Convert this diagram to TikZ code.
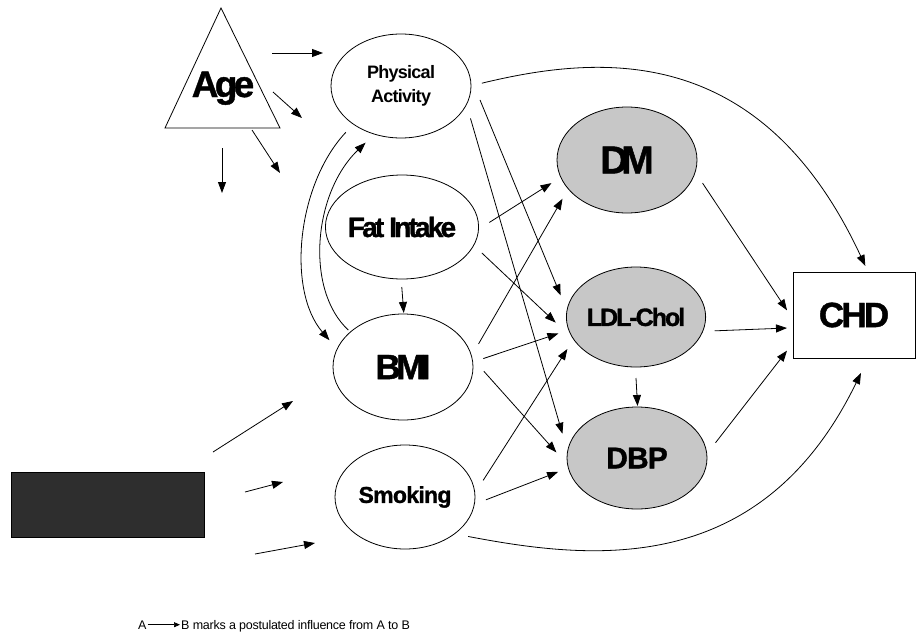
\documentclass[tikz,border=0pt]{standalone}
\usepackage{fontspec}
\setmainfont{Liberation Sans}
\usetikzlibrary{shapes.geometric,arrows.meta}

% bold, tightly set labels: size, tracking
\newcommand\tightfont[2]{\fontsize{#1}{#1}\selectfont\bfseries\addfontfeature{LetterSpace=#2,FakeBold=1.2}}

\tikzset{
  oval/.style={ellipse, draw, line width=0.8pt, inner sep=0pt, outer sep=11pt,
    minimum width=140pt, minimum height=104pt},
  shaded/.style={oval, fill=black!22},
  arr/.style={-{Triangle[length=11pt,width=8pt]}, line width=0.8pt},
}

\begin{document}
\begin{tikzpicture}[x=1pt, y=-1pt]
\useasboundingbox (0,0) rectangle (917,637);

% age triangle
\draw[line width=0.8pt] (221,8) -- (280,128) -- (165,128) -- cycle;
\node[anchor=base, inner sep=0pt, font={\tightfont{37}{-10}}] (age) at (223,97) {Age};

% left column
\node[oval, align=center, font={\fontsize{18}{24}\selectfont\bfseries\addfontfeature{LetterSpace=-4}}]
  (pa) at (401,86) {Physical\\Activity};
\node[oval, font={\tightfont{28}{-10}}] (fi) at (402,227) {Fat Intake};
\node[oval, minimum height=106pt, font={\tightfont{35}{-13}}] (bmi) at (403,367) {BMI};
\node[oval, font={\tightfont{23}{-3}}] (sm) at (405,497) {Smoking};

% middle column
\node[shaded, minimum height=106pt, font={\tightfont{39}{-18}}] (dm) at (627,160) {DM};
\node[shaded, minimum width=138pt, minimum height=100pt, font={\tightfont{25}{-8}}] (ldl) at (636,317) {LDL-Chol};
\node[shaded, minimum height=102pt, font={\tightfont{30}{-3}}] (dbp) at (637,458) {DBP};

% outcome
\node[draw, line width=1pt, minimum width=122pt, minimum height=86pt, inner sep=0pt,
  outer sep=6pt, font={\tightfont{35}{-8}}] (chd) at (854,315) {CHD};

% dark block, lower left
\node[draw, fill=black!82, minimum width=193pt, minimum height=65pt, inner sep=0pt] (grp) at (107.5,504.5) {};

% loose arrow ends
\coordinate (ag1s) at (272,53);  \coordinate (ag1e) at (323,53);
\coordinate (ag2s) at (273,92);  \coordinate (ag2e) at (302,118);
\coordinate (ag3s) at (252,130); \coordinate (ag3e) at (280,173);
\coordinate (ag4s) at (222,148); \coordinate (ag4e) at (222,193);
\coordinate (gr1s) at (213,452); \coordinate (gr1e) at (293,401);
\coordinate (gr2s) at (245,492); \coordinate (gr2e) at (283,482);
\coordinate (gr3s) at (255,554); \coordinate (gr3e) at (315,543);

\draw[arr] (ag1s) -- (ag1e);
\draw[arr] (ag2s) -- (ag2e);
\draw[arr] (ag3s) -- (ag3e);
\draw[arr] (ag4s) -- (ag4e);
\draw[arr] (gr1s) -- (gr1e);
\draw[arr] (gr2s) -- (gr2e);
\draw[arr] (gr3s) -- (gr3e);

% physical activity <-> bmi
\draw[arr] (pa.220) .. controls +(-49,52) and +(-43,-50) .. (bmi.160);
\draw[arr, shorten <=-8pt] (bmi.145) .. controls +(-37,-34) and +(-53,51) .. (pa.238);
\draw[arr, shorten <=-3pt, shorten >=-10pt] (fi.south) -- (bmi.north);

% into the risk factors
\draw[arr] (fi.3) -- (dm.197);
\draw[arr] (bmi.17) -- (dm.211);
\draw[arr] (pa.-10) -- (ldl.164);
\draw[arr] (fi.-18) -- (ldl.184);
\draw[arr] (bmi.6) -- (ldl.192);
\draw[arr] (sm.12) -- (ldl.205);
\draw[arr] (pa.-25) -- (dbp.162);
\draw[arr] (bmi.-3) -- (dbp.176);
\draw[arr] (sm.-2) -- (dbp.190);
\draw[arr, shorten >=-10pt] (ldl.south) -- (dbp.north);

% into chd
\draw[arr] (dm.-17) -- (chd.176);
\draw[arr] (ldl.-10) -- (chd.191);
\draw[arr] (dbp.11) -- (chd.208);
\draw[arr] (pa.2) .. controls +(116,-28) and +(-105,-226) .. (chd.77);
\draw[arr, shorten >=10pt] (sm.-32) .. controls +(121,23) and +(-105,216) .. (chd.-77);

% key
\node[anchor=base west, inner sep=1pt, font=\fontsize{12.5}{14}\selectfont] (keya) at (137,629) {A};
\node[anchor=base west, inner sep=1pt, font=\fontsize{12.5}{14}\selectfont\addfontfeature{LetterSpace=-2}]
  (keyb) at (180,629) {B marks a postulated influence from A to B};
\draw[-{Triangle[length=6pt,width=5pt]}, line width=0.7pt] (keya.east) -- (keya.east -| keyb.west);
\end{tikzpicture}
\end{document}
